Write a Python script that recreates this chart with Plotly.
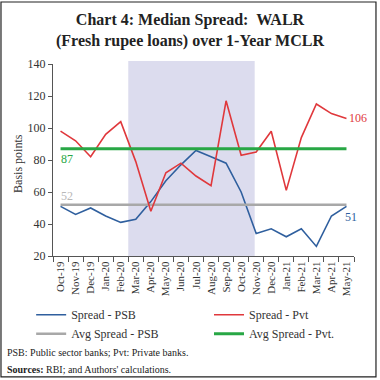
import plotly.graph_objects as go

months = ["Oct-19","Nov-19","Dec-19","Jan-20","Feb-20","Mar-20","Apr-20","May-20","Jun-20","Jul-20",
          "Aug-20","Sep-20","Oct-20","Nov-20","Dec-20","Jan-21","Feb-21","Mar-21","Apr-21","May-21"]
spread_psb = [51,46,50,45,41,43,54,67,77,86,82,78,60,34,37,32,37,26,45,51]
spread_pvt = [98,92,82,96,104,79,48,72,78,70,64,117,83,85,98,61,94,115,109,106]
avg_psb = [52]*len(months)
avg_pvt = [87]*len(months)
shade_start = 4.5
shade_end = 12.9

FONT = "Liberation Serif"
BLUE = "#2F5F9E"
RED = "#E0383C"
GRAY = "#A8A8A8"
GREEN = "#28A745"

fig = go.Figure()
fig.add_trace(go.Scatter(x=months, y=spread_psb, mode="lines", name="Spread - PSB",
                         line=dict(color=BLUE, width=1.6), legend="legend"))
fig.add_trace(go.Scatter(x=months, y=avg_psb, mode="lines", name="Avg Spread - PSB",
                         line=dict(color=GRAY, width=2.5), legend="legend"))
fig.add_trace(go.Scatter(x=months, y=spread_pvt, mode="lines", name="Spread - Pvt",
                         line=dict(color=RED, width=1.6), legend="legend2"))
fig.add_trace(go.Scatter(x=months, y=avg_pvt, mode="lines", name="Avg Spread - Pvt.",
                         line=dict(color=GREEN, width=3), legend="legend2"))

fig.add_shape(type="rect", xref="x", yref="paper", x0=shade_start, x1=shade_end, y0=0, y1=1.015,
              fillcolor="#DCDCEE", line=dict(width=0), layer="below")
fig.add_shape(type="rect", xref="paper", yref="paper", x0=-0.1728, x1=1.073, y0=-0.630, y1=1.323,
              line=dict(color="#222", width=1.2), fillcolor="rgba(0,0,0,0)")

fig.add_annotation(x=months[0], y=avg_pvt[0], text=str(avg_pvt[0]), showarrow=False, xanchor="left",
                   yanchor="top", xshift=-2, yshift=-1, font=dict(color=GREEN, size=12, family=FONT))
fig.add_annotation(x=months[0], y=avg_psb[0], text=str(avg_psb[0]), showarrow=False, xanchor="left",
                   yanchor="bottom", xshift=-2, yshift=0, font=dict(color="#B8B8B8", size=12, family=FONT))
fig.add_annotation(x=months[-1], y=spread_pvt[-1], text=str(spread_pvt[-1]), showarrow=False, xanchor="left",
                   xshift=1, font=dict(color=RED, size=12, family=FONT))
fig.add_annotation(x=months[-1], y=spread_psb[-1], text=str(spread_psb[-1]), showarrow=False, xanchor="left",
                   yanchor="top", xshift=-3, yshift=-2, font=dict(color=BLUE, size=12, family=FONT))

# title
fig.add_annotation(xref="paper", yref="paper", x=0.455, y=1.177, xanchor="center", yanchor="middle",
                   text="<b>Chart 4: Median Spread:  WALR<br>(Fresh rupee loans) over 1-Year MCLR</b>",
                   showarrow=False, font=dict(size=16, family=FONT, color="#222"))
# y-axis title
fig.add_annotation(xref="paper", yref="paper", x=-0.116, y=0.48, xanchor="center", yanchor="middle",
                   text="Basis points", textangle=-90, showarrow=False,
                   font=dict(size=12, family=FONT, color="#333"))

fig.add_annotation(xref="paper", yref="paper", x=-0.158, y=-0.505, xanchor="left", yanchor="middle",
                   text="PSB: Public sector banks; Pvt: Private banks.", showarrow=False,
                   font=dict(size=10, family=FONT, color="#222"))
fig.add_annotation(xref="paper", yref="paper", x=-0.158, y=-0.589, xanchor="left", yanchor="middle",
                   text="<b>Sources:</b> RBI; and Authors' calculations.", showarrow=False,
                   font=dict(size=10, family=FONT, color="#222"))

legend_common = dict(orientation="v", yanchor="top", xanchor="left", xref="container", yref="container",
                     itemwidth=30, font=dict(size=12, family=FONT, color="#333"),
                     bgcolor="rgba(0,0,0,0)", tracegroupgap=0)

fig.update_layout(
    width=380, height=380,
    margin=dict(l=53, r=26, t=64, b=124, autoexpand=False),
    paper_bgcolor="white", plot_bgcolor="white",
    font=dict(family=FONT, color="#333", size=12),
    showlegend=True,
    legend=dict(x=0.082, y=0.21, **legend_common),
    legend2=dict(x=0.55, y=0.21, **legend_common),
    xaxis=dict(type="category", showline=True, linecolor="#555", linewidth=1, ticks="outside",
               tickson="boundaries", ticklen=5, tickcolor="#555", tickangle=-90,
               tickfont=dict(size=11, family=FONT, color="#333"), showgrid=False,
               range=[-0.5, 19.5], automargin=False),
    yaxis=dict(range=[20, 140], dtick=20, showline=True, linecolor="#555", linewidth=1,
               ticks="outside", ticklen=4, tickcolor="#555", showgrid=False, zeroline=False,
               tickfont=dict(size=12, family=FONT, color="#333"), automargin=False),
)

fig.write_html("out.html", config={"displayModeBar": False},
               post_script="document.body.style.margin='0';")
